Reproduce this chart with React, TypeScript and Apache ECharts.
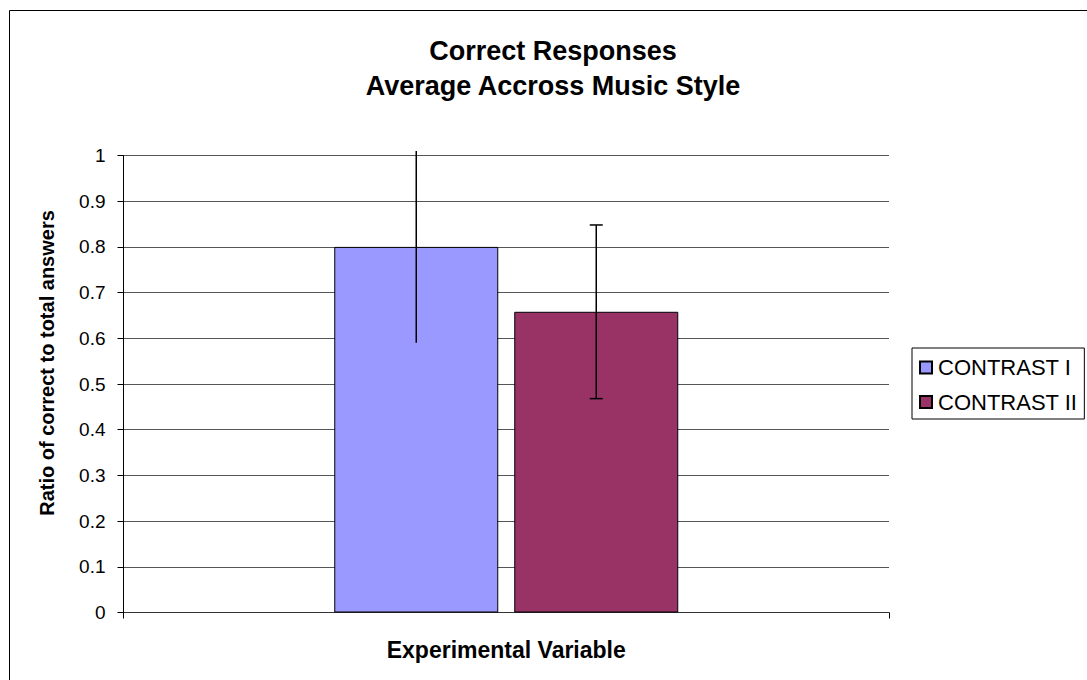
import React, { useEffect, useRef } from "react";
import * as echarts from "echarts";

const titleLines = ["Correct Responses", "Average Accross Music Style"];
const categories = ["Experimental Variable"];
const seriesNames = ["CONTRAST I", "CONTRAST II"];
const contrastI = [0.8];
const contrastII = [0.658];
const errorI = [0.21];
const errorII = [0.19];
const yAxisTitle = "Ratio of correct to total answers";

const FONT = "'Liberation Sans', Arial, sans-serif";
const BAR_W = 164;
const BAR_GAP = 16;

function errorSeries(name: string, means: number[], errs: number[], dir: number, caps: boolean) {
  return {
    type: "custom",
    name: name + " error",
    coordinateSystem: "cartesian2d",
    silent: true,
    z: 10,
    data: means.map((m, i) => [i, m - errs[i], m + errs[i]]),
    renderItem: (params: any, api: any) => {
      const lo = api.coord([api.value(0), api.value(1)]);
      const hi = api.coord([api.value(0), api.value(2)]);
      const x = lo[0] + dir * (BAR_W + BAR_GAP) / 2;
      const style = { stroke: "#000", lineWidth: 1.5 };
      const children: any[] = [
        { type: "line", shape: { x1: x, y1: lo[1], x2: x, y2: hi[1] }, style },
      ];
      if (caps) {
        children.push({ type: "line", shape: { x1: x - 6.5, y1: lo[1], x2: x + 6.5, y2: lo[1] }, style });
        children.push({ type: "line", shape: { x1: x - 6.5, y1: hi[1], x2: x + 6.5, y2: hi[1] }, style });
      }
      return { type: "group", children };
    },
  };
}

export default function App() {
  const ref = useRef<HTMLDivElement>(null);
  useEffect(() => {
    if (!ref.current) return;
    const chart = echarts.init(ref.current, null, { renderer: "svg" });
    chart.setOption({
      animation: false,
      backgroundColor: "#fff",
      textStyle: { fontFamily: FONT },
      title: {
        text: titleLines.join("\n"),
        left: 548,
        textAlign: "center",
        top: 28,
        textStyle: { fontFamily: FONT, fontSize: 27, fontWeight: "bold", color: "#000", lineHeight: 35 },
      },
      legend: {
        orient: "vertical",
        left: 912,
        top: 348,
        data: seriesNames,
        icon: "rect",
        itemWidth: 12,
        itemHeight: 12,
        itemGap: 12.5,
        padding: [8.5, 7, 6, 7],
        borderColor: "#000",
        borderWidth: 1,
        textStyle: { fontFamily: FONT, fontSize: 22, color: "#000", lineHeight: 22, padding: [0, 0, 0, 1] },
      },
      grid: { left: 123.5, right: 198, top: 155.5, bottom: 67.5, containLabel: false },
      xAxis: {
        type: "category",
        data: categories,
        boundaryGap: true,
        axisLine: { lineStyle: { color: "#333", width: 1 } },
        axisTick: { show: true, length: 6, lineStyle: { color: "#000" } },
        axisLabel: {
          margin: 26,
          fontFamily: FONT,
          fontSize: 23,
          fontWeight: "bold",
          color: "#000",
        },
      },
      yAxis: {
        type: "value",
        min: 0,
        max: 1,
        interval: 0.1,
        axisLine: { show: true, lineStyle: { color: "#000", width: 1 } },
        axisTick: { show: true, length: 6, lineStyle: { color: "#000" } },
        axisLabel: { margin: 18, fontFamily: FONT, fontSize: 19, color: "#000" },
        splitLine: { show: true, lineStyle: { color: "#555", width: 1 } },
      },
      graphic: [
        {
          type: "rect",
          shape: { x: 9.5, y: 10.5, width: 1200, height: 1000 },
          style: { fill: "none", stroke: "#000", lineWidth: 1 },
          silent: true,
        },
        {
          type: "text",
          x: 47,
          y: 363,
          rotation: Math.PI / 2,
          style: {
            text: yAxisTitle,
            fontFamily: FONT,
            fontSize: 20,
            fontWeight: "bold",
            fill: "#000",
            align: "center",
            verticalAlign: "middle",
          },
          silent: true,
        },
      ],
      series: [
        {
          type: "bar",
          name: seriesNames[0],
          data: contrastI,
          barWidth: BAR_W,
          barGap: (BAR_GAP / BAR_W) * 100 + "%",
          itemStyle: { color: "#9999FF", borderColor: "#000", borderWidth: 1 },
        },
        {
          type: "bar",
          name: seriesNames[1],
          data: contrastII,
          barWidth: BAR_W,
          itemStyle: { color: "#993366", borderColor: "#000", borderWidth: 1 },
        },
        errorSeries(seriesNames[0], contrastI, errorI, -1, false),
        errorSeries(seriesNames[1], contrastII, errorII, 1, true),
      ],
    });
    return () => chart.dispose();
  }, []);
  return (
    <div
      ref={ref}
      style={{ position: "fixed", left: 0, top: 0, width: 1087, height: 680 }}
    />
  );
}
